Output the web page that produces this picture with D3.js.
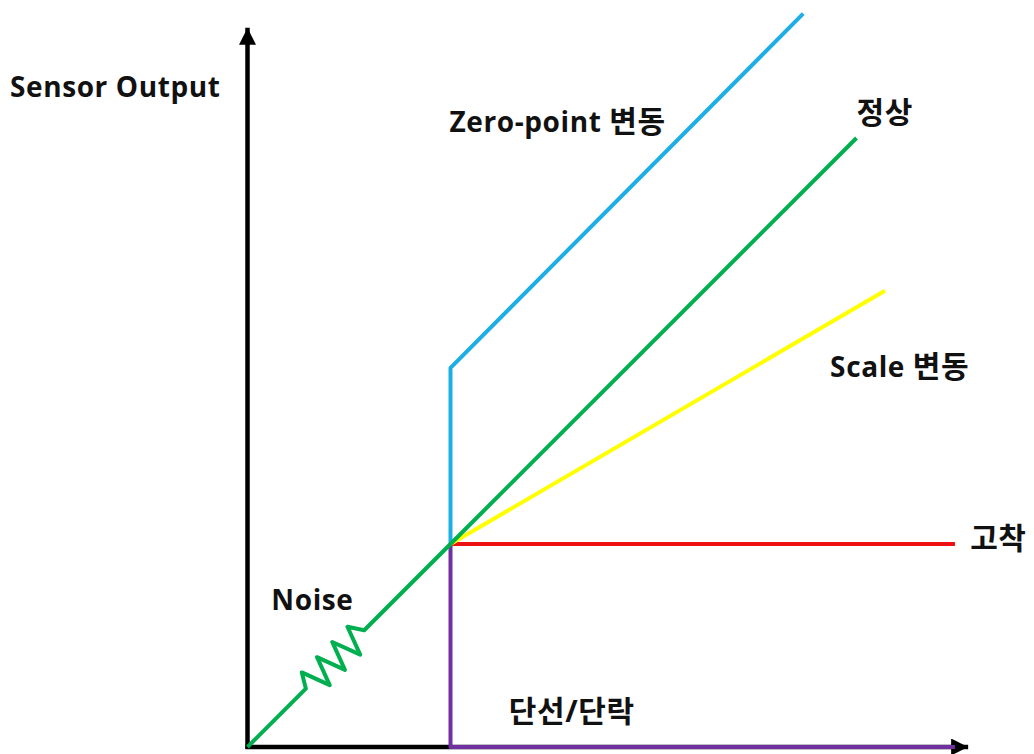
<!DOCTYPE html>
<html>
<head>
<meta charset="utf-8">
<script src="https://cdn.jsdelivr.net/npm/d3@7"></script>
<style>
  html, body { margin: 0; padding: 0; background: #fff; }
  svg text { font-family: "Open Sans", "Noto Sans CJK KR", sans-serif; font-weight: 700; fill: #111; }
</style>
</head>
<body>
<svg id="chart" width="1034" height="754"></svg>
<script>
// Sensor failure modes: output vs. input, in arbitrary units.
const normalX    = [0, 1.15, 1.07, 1.62, 1.37, 1.92, 1.67, 2.22, 1.97, 2.30, 4, 12];
const normalY    = [0, 1.15, 1.47, 1.22, 1.77, 1.52, 2.07, 1.82, 2.37, 2.30, 4, 12];
const zeroPointX = [4, 4, 10.95];
const zeroPointY = [4, 7.47, 14.45];
const scaleX     = [4, 12.56];
const scaleY     = [4, 8.99];
const stuckX     = [4, 13.94];
const stuckY     = [4, 4];
const openX      = [4, 4, 13.94];
const openY      = [4, 0, 0];
const axisMax    = [14.2, 14.17];

const labels = [
  { text: "Sensor Output",   x: -4.68, y: 12.8 },
  { text: "Zero-point 변동", x: 3.98,  y: 12.12 },
  { text: "정상",            x: 12.0,  y: 12.3 },
  { text: "Scale 변동",      x: 11.48, y: 7.29 },
  { text: "고착",            x: 14.24, y: 3.9 },
  { text: "Noise",           x: 0.47,  y: 2.70 },
  { text: "단선/단락",       x: 5.15,  y: 0.50 }
];

const svg = d3.select("#chart");
const x = d3.scaleLinear().domain([0, 14]).range([247.5, 247.5 + 14 * 50.75]);
const y = d3.scaleLinear().domain([0, 14]).range([747, 747 - 14 * 50.75]);

const defs = svg.append("defs");
defs.append("marker")
  .attr("id", "arrow")
  .attr("viewBox", "0 0 10 10")
  .attr("refX", 10).attr("refY", 5)
  .attr("markerWidth", 17).attr("markerHeight", 17)
  .attr("markerUnits", "userSpaceOnUse")
  .attr("orient", "auto")
  .append("path").attr("d", "M0,0 L10,5 L0,10 Z").attr("fill", "#000");

// Axes
svg.append("line")
  .attr("x1", x(0)).attr("y1", y(0) + 2)
  .attr("x2", x(0)).attr("y2", y(axisMax[1]))
  .attr("stroke", "#000").attr("stroke-width", 4.5)
  .attr("marker-end", "url(#arrow)");
svg.append("line")
  .attr("x1", x(0) - 2).attr("y1", y(0))
  .attr("x2", x(axisMax[0])).attr("y2", y(0))
  .attr("stroke", "#000").attr("stroke-width", 4.5)
  .attr("marker-end", "url(#arrow)");

const line = d3.line().x(d => x(d[0])).y(d => y(d[1]));
const series = [
  { xs: openX,      ys: openY,      color: "#7030a0" },
  { xs: zeroPointX, ys: zeroPointY, color: "#1eaee6" },
  { xs: stuckX,     ys: stuckY,     color: "#ee1111" },
  { xs: scaleX,     ys: scaleY,     color: "#ffff00" },
  { xs: normalX,    ys: normalY,    color: "#00b050" }
];

svg.selectAll("path.series")
  .data(series)
  .join("path")
  .attr("class", "series")
  .attr("d", s => line(s.xs.map((v, i) => [v, s.ys[i]])))
  .attr("fill", "none")
  .attr("stroke", s => s.color)
  .attr("stroke-width", 4)
  .attr("stroke-linejoin", "round");

// Hangul runs are set a touch larger than the Latin runs
const runs = t => t.match(/[\uAC00-\uD7A3\/]+|[^\uAC00-\uD7A3\/]+/g);
const labelSel = svg.selectAll("text.label")
  .data(labels)
  .join("text")
  .attr("class", "label")
  .attr("x", d => x(d.x))
  .attr("y", d => y(d.y))
  .attr("font-size", 28)
  .attr("letter-spacing", 0.6);
labelSel.selectAll("tspan")
  .data(d => runs(d.text))
  .join("tspan")
  .attr("font-size", r => /[\uAC00-\uD7A3]/.test(r) ? 30 : 28)
  .text(r => r);
</script>
</body>
</html>
